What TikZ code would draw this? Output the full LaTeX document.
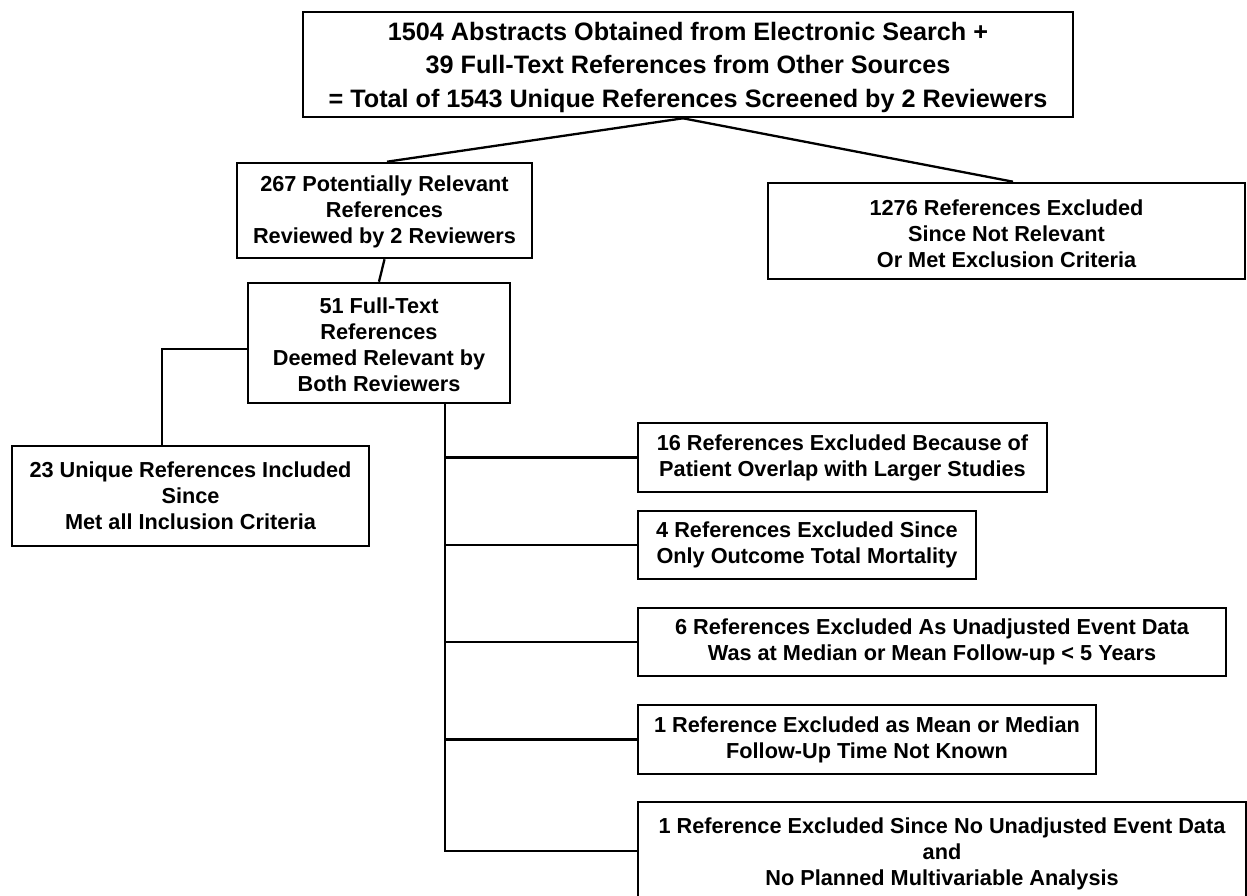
\documentclass[tikz,border=0pt]{standalone}
\usepackage{fontspec}
\setmainfont{Liberation Sans}
\begin{document}
\begin{tikzpicture}[x=1pt,y=-1pt,
  flowbox/.style={draw, line width=2.6pt, inner sep=0pt, align=center,
    font=\fontsize{21.7}{26}\selectfont\bfseries},
  topbox/.style={flowbox, font=\fontsize{25.2}{33.5}\selectfont\bfseries},
  link/.style={line width=2.3pt}]
\useasboundingbox (0,0) rectangle (1247,895);
\clip (0,0) rectangle (1247,895);
\node[topbox, minimum width=770pt, minimum height=105pt] (top) at (688,64.5)
  {\rule{0pt}{24pt}1504 Abstracts Obtained from Electronic Search +\\
   39 Full-Text References from Other Sources\\
   = Total of 1543 Unique References Screened by 2 Reviewers};
\node[flowbox, minimum width=295pt, minimum height=95pt] (n267) at (384.5,210.5)
  {\rule{0pt}{19pt}267 Potentially Relevant\\References\\Reviewed by 2 Reviewers};
\node[flowbox, minimum width=477pt, minimum height=96pt] (n1276) at (1006.5,231)
  {\rule{0pt}{21pt}1276 References Excluded\\Since Not Relevant\\Or Met Exclusion Criteria};
\node[flowbox, minimum width=262pt, minimum height=120pt] (n51) at (379,343)
  {\rule{0pt}{19pt}51 Full-Text\\References\\Deemed Relevant by\\Both Reviewers};
\node[flowbox, minimum width=357pt, minimum height=100pt] (n23) at (190.5,496)
  {23 Unique References Included\\Since\\Met all Inclusion Criteria};
\node[flowbox, minimum width=409pt, minimum height=69pt] (n16) at (842.5,457.5)
  {16 References Excluded Because of\\Patient Overlap with Larger Studies};
\node[flowbox, minimum width=338pt, minimum height=68pt] (n4) at (807,545)
  {4 References Excluded Since\\Only Outcome Total Mortality};
\node[flowbox, minimum width=588pt, minimum height=68pt] (n6) at (932,642)
  {6 References Excluded As Unadjusted Event Data\\Was at Median or Mean Follow-up {\textless} 5 Years};
\node[flowbox, minimum width=458pt, minimum height=69pt] (n1a) at (867,739.5)
  {1 Reference Excluded as Mean or Median\\Follow-Up Time Not Known};
\node[flowbox, minimum width=608pt, minimum height=103pt] (nlast) at (942,853.5)
  {1 Reference Excluded Since No Unadjusted Event Data\\and\\No Planned Multivariable Analysis};
% connectors
\draw[link] ([xshift=-5pt]top.south) -- ([xshift=2.5pt]n267.north);
\draw[link] ([xshift=-5pt]top.south) -- ([xshift=6.5pt]n1276.north);
\draw[link] (n267.south) -- (n51.north);
\draw[link] ([yshift=-6pt]n51.west) -| ([xshift=-28.5pt]n23.north);
\coordinate (trunk) at ([xshift=66pt]n51.south);
\draw[link] (trunk) |- (n16.west);
\draw[link] (trunk) |- (n4.west);
\draw[link] (trunk) |- (n6.west);
\draw[link] (trunk) |- (n1a.west);
\draw[link] (trunk) |- ([yshift=2.5pt]nlast.west);
\end{tikzpicture}
\end{document}
